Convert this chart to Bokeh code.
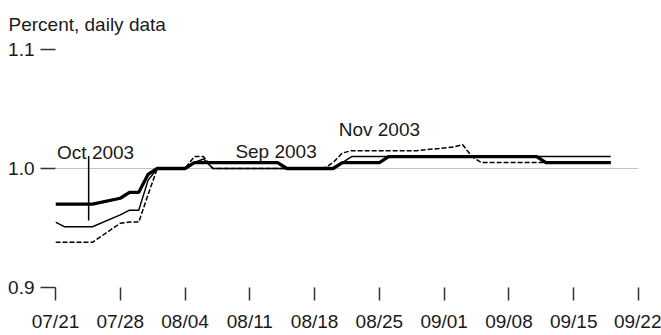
import pandas as pd
from bokeh.plotting import figure
from bokeh.models import FixedTicker, DatetimeTickFormatter, NumeralTickFormatter, Label
from bokeh.embed import file_html
from bokeh.resources import INLINE

FONT = "Liberation Sans"
TXT = "#1a1a1a"

# Oct 2003 (thick solid)
oct_dates = ["2003-07-21", "2003-07-25", "2003-07-28", "2003-07-29", "2003-07-30",
             "2003-07-31", "2003-08-01", "2003-08-04", "2003-08-05", "2003-08-14",
             "2003-08-15", "2003-08-20", "2003-08-21", "2003-08-25", "2003-08-26",
             "2003-09-11", "2003-09-12", "2003-09-19"]
oct_vals = [0.970, 0.970, 0.975, 0.980, 0.980, 0.995, 1.000, 1.000, 1.005, 1.005,
            1.000, 1.000, 1.005, 1.005, 1.010, 1.010, 1.005, 1.005]

# Sep 2003 (thin solid)
sep_dates = ["2003-07-21", "2003-07-22", "2003-07-25", "2003-07-28", "2003-07-29",
             "2003-07-30", "2003-07-31", "2003-08-01", "2003-08-04", "2003-08-05",
             "2003-08-06", "2003-08-07", "2003-08-20", "2003-08-21", "2003-08-22",
             "2003-09-19"]
sep_vals = [0.955, 0.951, 0.951, 0.961, 0.965, 0.965, 0.990, 1.000, 1.000, 1.005,
            1.008, 1.000, 1.000, 1.005, 1.010, 1.010]

# Nov 2003 (dashed)
nov_dates = ["2003-07-21", "2003-07-25", "2003-07-28", "2003-07-29", "2003-07-30",
             "2003-07-31", "2003-08-01", "2003-08-04", "2003-08-05", "2003-08-06",
             "2003-08-07", "2003-08-19", "2003-08-20", "2003-08-21", "2003-08-22",
             "2003-08-29", "2003-09-02", "2003-09-03", "2003-09-04", "2003-09-05",
             "2003-09-19"]
nov_vals = [0.938, 0.938, 0.954, 0.955, 0.955, 0.978, 1.000, 1.000, 1.010, 1.010,
            1.000, 1.000, 1.005, 1.013, 1.015, 1.015, 1.018, 1.020, 1.010, 1.005,
            1.005]

tick_dates = ["2003-07-21", "2003-07-28", "2003-08-04", "2003-08-11", "2003-08-18",
              "2003-08-25", "2003-09-01", "2003-09-08", "2003-09-15", "2003-09-22"]
y_ticks = [0.9, 1.0, 1.1]
unit_label = "Percent, daily data"


def ms(d):
    return pd.Timestamp(d).value // 10**6


p = figure(width=661, height=335, x_axis_type="datetime", output_backend="svg",
           toolbar_location=None,
           x_range=(ms(tick_dates[0]), ms(tick_dates[-1])), y_range=(0.9, 1.1),
           min_border_left=55, min_border_right=23, min_border_top=47,
           min_border_bottom=48)
p.outline_line_color = None
p.background_fill_color = "white"
p.border_fill_color = "white"

p.title.text = unit_label
p.title.text_font = FONT
p.title.text_font_size = "19px"
p.title.text_font_style = "normal"
p.title.text_color = TXT
p.title.align = "left"
p.title.vertical_align = "top"
p.title.offset = -47
p.title.standoff = 26

xt = FixedTicker(ticks=[ms(d) for d in tick_dates])
p.xaxis.ticker = xt
p.xaxis.formatter = DatetimeTickFormatter(days="%m/%d", months="%m/%d")
p.xaxis.axis_line_color = None
p.xaxis.major_tick_in = 0
p.xaxis.major_tick_out = 13
p.xaxis.major_tick_line_color = "#333333"
p.xaxis.major_tick_line_width = 1.5
p.xaxis.minor_tick_line_color = None
p.xaxis.major_label_standoff = 10
p.xaxis.major_label_text_font = FONT
p.xaxis.major_label_text_font_size = "19px"
p.xaxis.major_label_text_color = TXT

yt = FixedTicker(ticks=y_ticks)
p.yaxis.ticker = yt
p.yaxis.formatter = NumeralTickFormatter(format="0.0")
p.yaxis.axis_line_color = None
p.yaxis.major_tick_in = 0
p.yaxis.major_tick_out = 15
p.yaxis.major_tick_line_color = "#333333"
p.yaxis.major_tick_line_width = 1.5
p.yaxis.minor_tick_line_color = None
p.yaxis.major_label_standoff = 6
p.yaxis.major_label_text_font = FONT
p.yaxis.major_label_text_font_size = "19px"
p.yaxis.major_label_text_color = TXT

p.xgrid.grid_line_color = None
p.ygrid.ticker = yt
p.ygrid.grid_line_color = "#c4c4c4"
p.ygrid.grid_line_width = 1.2

p.line(pd.to_datetime(sep_dates), sep_vals, line_color="black", line_width=1.5)
p.line(pd.to_datetime(nov_dates), nov_vals, line_color="black", line_width=1.5,
       line_dash="5 2")
p.line(pd.to_datetime(oct_dates), oct_vals, line_color="black", line_width=3.3)

# annotation pointer for Oct 2003
p.segment(x0=[ms("2003-07-24 14:00")], y0=[1.0104], x1=[ms("2003-07-24 14:00")],
          y1=[0.9563], line_color="black", line_width=1.5)

labels = [("Oct 2003", "2003-07-25 08:00", 1.0135),
          ("Sep 2003", "2003-08-13 20:00", 1.0145),
          ("Nov 2003", "2003-08-25 00:00", 1.0325)]
for txt, d, yv in labels:
    p.add_layout(Label(x=ms(d), y=yv, text=txt, text_align="center",
                       text_baseline="alphabetic", text_font=FONT,
                       text_font_size="19px", text_color=TXT))

open("out.html", "w").write(file_html(p, INLINE))
